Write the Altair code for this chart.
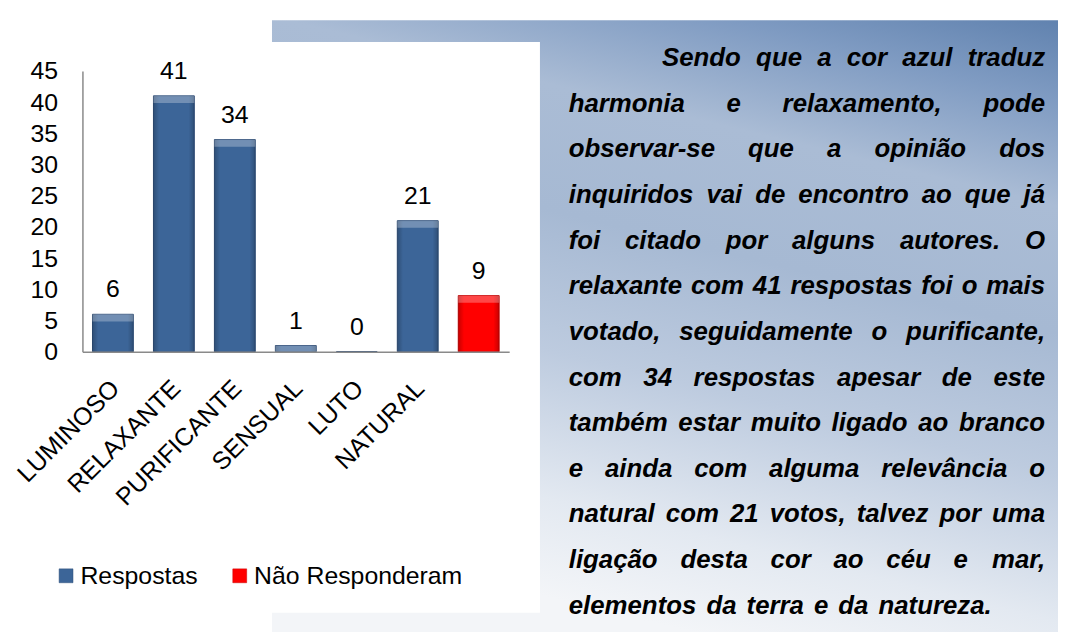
import altair as alt
import pandas as pd

# ---------------- data ----------------
categories = ["LUMINOSO", "RELAXANTE", "PURIFICANTE", "SENSUAL", "LUTO", "NATURAL", "NÃO RESPONDERAM"]
values = [6, 41, 34, 1, 0, 21, 9]
series = ["Respostas"] * 6 + ["Não Responderam"]
series_names = ["Respostas", "Não Responderam"]
series_colors = ["#3c6598", "#ff0000"]
series_strokes = ["#2c4d78", "#c80000"]
y_ticks = [0, 5, 10, 15, 20, 25, 30, 35, 40, 45]

text_lines = [
    "Sendo que a cor azul traduz",
    "harmonia e relaxamento, pode",
    "observar-se que a opinião dos",
    "inquiridos vai de encontro ao que já",
    "foi citado por alguns autores. O",
    "relaxante com 41 respostas foi o mais",
    "votado, seguidamente o purificante,",
    "com 34 respostas apesar de este",
    "também estar muito ligado ao branco",
    "e ainda com alguma relevância o",
    "natural com 21 votos, talvez por uma",
    "ligação desta cor ao céu e mar,",
    "elementos da terra e da natureza.",
]

FONT = "Liberation Sans"
FS = 25
TFS = 26

# ------------- layout of justified text (Arial Bold metrics) -------------
AFM = {
    "a": 556, "b": 611, "c": 556, "d": 611, "e": 556, "f": 333, "g": 611, "h": 611,
    "i": 278, "j": 278, "k": 556, "l": 278, "m": 889, "n": 611, "o": 611, "p": 611,
    "q": 611, "r": 389, "s": 556, "t": 333, "u": 611, "v": 556, "w": 778, "x": 556,
    "y": 556, "z": 500, "O": 778, "S": 667, ",": 278, ".": 278, "-": 333,
    "ã": 556, "á": 556, "â": 556, "é": 556, "ç": 556, "ú": 611,
}


def text_width(s):
    return sum(AFM.get(ch, 556) for ch in s) * TFS / 1000.0


LEFT, RIGHT, INDENT = 490, 970, 584
Y0, DY = -5, 46
left_rows, right_rows = [], []
for i, line in enumerate(text_lines):
    words = line.split(" ")
    start = INDENT if i == 0 else LEFT
    yb = Y0 + DY * i
    widths = [text_width(w) for w in words]
    if i == len(text_lines) - 1:
        gap = 1.4 * AFM[","] * TFS / 1000.0
    else:
        gap = (RIGHT - start - sum(widths)) / (len(words) - 1)
    x = start
    for j, w in enumerate(words):
        if j == len(words) - 1 and i != len(text_lines) - 1:
            right_rows.append({"w": w, "px": RIGHT, "py": yb})
        else:
            left_rows.append({"w": w, "px": x, "py": yb})
        x += widths[j] + gap

df = pd.DataFrame({"categoria": categories, "valor": values, "serie": series})
one = pd.DataFrame({"k": [0]})

x_enc = alt.X(
    "categoria:N",
    sort=categories,
    scale=alt.Scale(paddingInner=0.33, paddingOuter=0.165),
    axis=alt.Axis(
        title=None, labelAngle=-45, labelFontSize=FS, labelFont=FONT, labelColor="black",
        ticks=False, tickSize=0, labelPadding=24, labelOffset=-6,
        domainColor="#8a8a8a", domainWidth=1.5,
        labelLimit=400, labelExpr="datum.value == 'NÃO RESPONDERAM' ? '' : datum.value",
        zindex=1,
    ),
)
y_enc = alt.Y(
    "valor:Q",
    scale=alt.Scale(domain=[0, 45], nice=False),
    axis=alt.Axis(
        title=None, values=y_ticks, labelFontSize=FS, labelFont=FONT, labelColor="black",
        ticks=False, tickSize=0, labelPadding=25, grid=False, domainColor="#8a8a8a",
        domainWidth=1.5, zindex=1,
    ),
)

panel_grad = alt.LinearGradient(
    gradient="linear",
    stops=[
        alt.GradientStop(color="#5f81ae", offset=0),
        alt.GradientStop(color="#7f9bc2", offset=0.12),
        alt.GradientStop(color="#aabcd5", offset=0.27),
        alt.GradientStop(color="#a6b9d3", offset=0.45),
        alt.GradientStop(color="#bdcbdf", offset=0.65),
        alt.GradientStop(color="#e3e9f1", offset=0.86),
        alt.GradientStop(color="#f3f5f8", offset=1),
    ],
    x1=1, y1=0, x2=0.7, y2=1,
)

panel = alt.Chart(one).mark_rect(fill=panel_grad).encode(
    x=alt.value(191), x2=alt.value(1000), y=alt.value(-51), y2=alt.value(600)
)
white_box = alt.Chart(one).mark_rect(fill="white").encode(
    x=alt.value(-100), x2=alt.value(461), y=alt.value(-29), y2=alt.value(546)
)

word_style = dict(
    baseline="alphabetic", font=FONT, fontSize=TFS, fontStyle="italic",
    fontWeight="bold", color="black",
)
words_left = alt.Chart(pd.DataFrame(left_rows)).mark_text(align="left", **word_style).encode(
    x=alt.X("px:Q", scale=None, axis=None),
    y=alt.Y("py:Q", scale=None, axis=None),
    text="w:N",
)
words_right = alt.Chart(pd.DataFrame(right_rows)).mark_text(align="right", **word_style).encode(
    x=alt.X("px:Q", scale=None, axis=None),
    y=alt.Y("py:Q", scale=None, axis=None),
    text="w:N",
)

backdrop = alt.layer(panel, white_box, words_left, words_right)

base = alt.Chart(df)
bars = base.mark_bar(strokeWidth=1).encode(
    x=x_enc,
    y=y_enc,
    color=alt.Color(
        "serie:N",
        scale=alt.Scale(domain=series_names, range=series_colors),
        legend=alt.Legend(
            title=None, orient="none", legendX=-29, legendY=496, direction="horizontal",
            symbolType="square", symbolSize=196, symbolStrokeWidth=0.5,
            labelFontSize=FS, labelFont=FONT, labelColor="black", labelLimit=400,
            columnPadding=29, labelOffset=2, padding=0,
        ),
    ),
    stroke=alt.Stroke(
        "serie:N", scale=alt.Scale(domain=series_names, range=series_strokes), legend=None
    ),
)

shade_grad = alt.LinearGradient(
    gradient="linear",
    stops=[
        alt.GradientStop(color="rgba(0,0,0,0.22)", offset=0),
        alt.GradientStop(color="rgba(0,0,0,0)", offset=0.14),
        alt.GradientStop(color="rgba(0,0,0,0)", offset=0.86),
        alt.GradientStop(color="rgba(0,0,0,0.22)", offset=1),
    ],
    x1=0, y1=0, x2=1, y2=0,
)
shade = base.mark_bar(fill=shade_grad).encode(x=x_enc, y=y_enc)

cap = base.transform_calculate(cap="max(datum.valor - 1.15, 0)").mark_bar(
    color="white", opacity=0.28
).encode(x=x_enc, y=y_enc, y2="cap:Q")

labels = base.mark_text(
    baseline="alphabetic", dy=-17, fontSize=FS, font=FONT, color="black"
).encode(x=x_enc, y=y_enc, text="valor:Q")

main = alt.layer(bars, shade, cap, labels)

chart = (
    alt.layer(backdrop, main)
    .resolve_scale(x="independent", y="independent")
    .properties(
        width=430,
        height=283,
        autosize=alt.AutoSizeParams(type="none"),
        padding={"left": 75, "top": 61, "right": 553, "bottom": 280},
        background="white",
    )
    .configure_view(stroke=None)
    .configure(font=FONT)
)

chart.save("out.html", embed_options={"renderer": "svg", "actions": False})
